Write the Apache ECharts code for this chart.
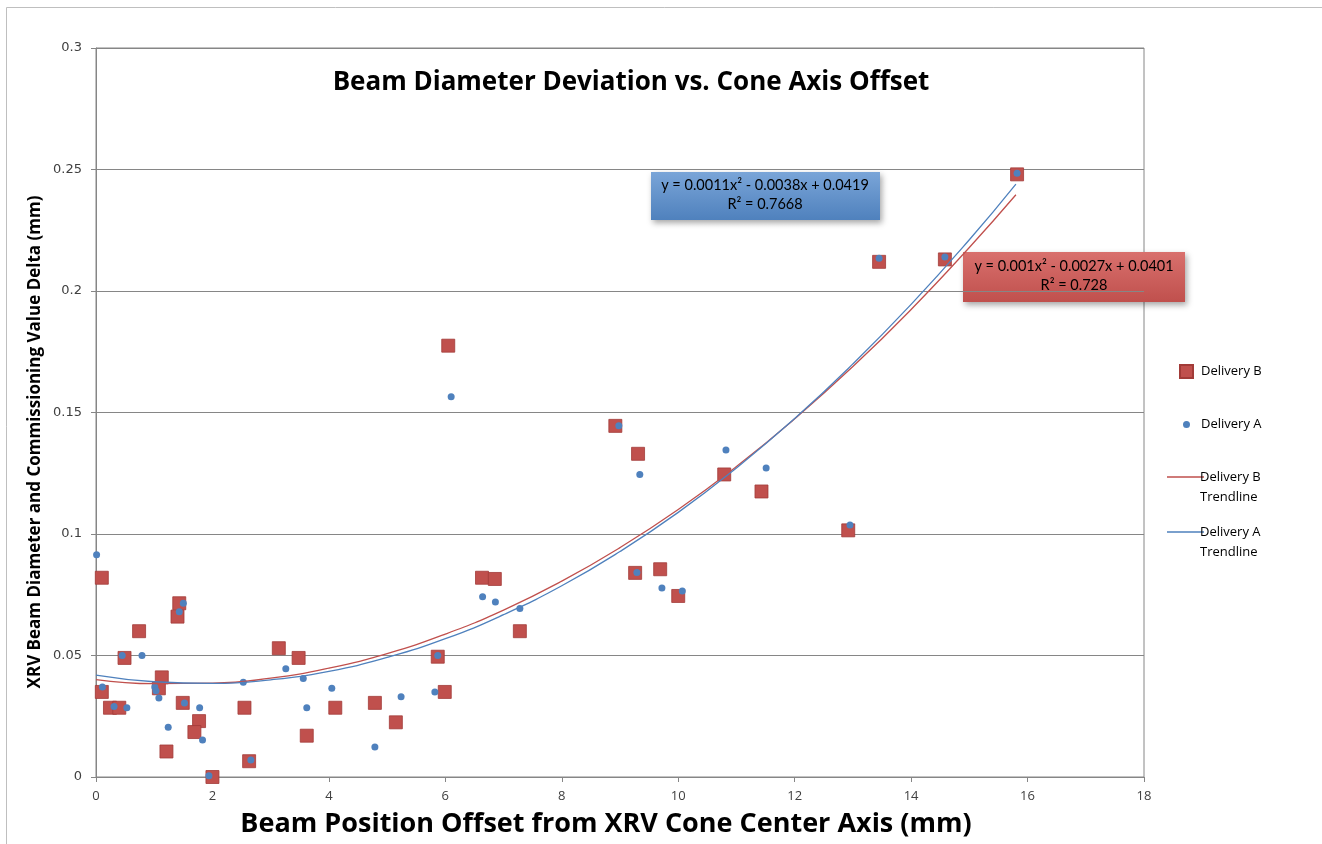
<!DOCTYPE html>
<html><head><meta charset="utf-8">
<script src="https://cdn.jsdelivr.net/npm/echarts@6/dist/echarts.min.js"></script>
<style>html,body{margin:0;padding:0;background:#fff}#c{width:1322px;height:844px}</style>
</head><body><div id="c"></div>
<script>
// Delivery B (red squares)
const bX = [0.10,0.10,0.24,0.40,0.49,0.74,1.13,1.08,1.43,1.40,1.49,1.21,1.77,1.69,2.00,2.55,2.63,3.14,3.48,3.62,4.11,4.79,5.15,5.87,5.99,6.05,6.63,6.85,7.28,8.92,9.26,9.31,9.69,10.00,10.79,11.43,12.92,13.45,14.58,15.82];
const bY = [0.082,0.035,0.0285,0.0285,0.049,0.060,0.041,0.0365,0.0715,0.066,0.0305,0.0105,0.023,0.0185,0.0,0.0285,0.0065,0.053,0.049,0.017,0.0285,0.0305,0.0225,0.0495,0.035,0.1775,0.082,0.0815,0.060,0.1445,0.084,0.133,0.0855,0.0745,0.1245,0.1175,0.1015,0.212,0.213,0.248];
// Delivery A (blue dots)
const aX = [0.01,0.11,0.31,0.45,0.53,0.79,1.01,1.03,1.08,1.24,1.43,1.50,1.52,1.78,1.83,1.94,2.53,2.66,3.26,3.56,3.62,4.05,4.79,5.24,5.82,5.87,6.10,6.64,6.86,7.28,8.98,9.29,9.34,9.72,10.07,10.82,11.51,12.95,13.45,14.58,15.82];
const aY = [0.0915,0.037,0.029,0.050,0.0285,0.050,0.037,0.0355,0.0325,0.0205,0.068,0.0715,0.0305,0.0285,0.0152,0.0005,0.039,0.007,0.0445,0.0405,0.0285,0.0365,0.0123,0.033,0.035,0.050,0.1565,0.0742,0.072,0.0693,0.1445,0.0842,0.1245,0.0778,0.0765,0.1346,0.1272,0.1037,0.2135,0.214,0.2485];
// Trendlines
const trendX = [0,1,2,3,4,5,6,7,8,9,10,11,12,13,14,15,15.8];
const trendB = [0.0401,0.0384,0.0386,0.0407,0.0448,0.0508,0.0588,0.0687,0.0806,0.0944,0.1101,0.1278,0.1474,0.1689,0.1924,0.2179,0.2396];
const trendA = [0.0419,0.0392,0.0385,0.0400,0.0435,0.0492,0.0569,0.0668,0.0787,0.0928,0.1089,0.1272,0.1475,0.1700,0.1945,0.2211,0.2440];
const eqA = ['y = 0.0011x² - 0.0038x + 0.0419', 'R² = 0.7668'];
const eqB = ['y = 0.001x² - 0.0027x + 0.0401', 'R² = 0.728'];
const names = ['Delivery B', 'Delivery A', 'Delivery B Trendline', 'Delivery A Trendline'];
const yTitle = 'XRV Beam Diameter and Commissioning Value Delta (mm)';

const zip = (xs, ys) => xs.map((x, i) => [x, ys[i]]);
const RED = '#c0504d', BLUE = '#4f81bd';
const LINE_ICON = 'path://M0,0H0.01V0.01H0Z M0,9.3H37V10.7H0Z M0,39.99H0.01V40H0Z';
const DOT_ICON = 'path://M0,0H0.01V0.01H0Z M12.99,12.99H13V13H12.99Z M3,6.5A3.5,3.5 0 1 1 10,6.5A3.5,3.5 0 1 1 3,6.5Z';
const chart = echarts.init(document.getElementById('c'), null, {renderer: 'canvas'});
chart.setOption({
  backgroundColor: '#fff',
  animation: false,
  title: {
    text: 'Beam Diameter Deviation vs. Cone Axis Offset',
    left: 626, top: 65, textAlign: 'center',
    textStyle: {fontFamily: 'Open Sans', fontWeight: 'bold', fontSize: 26, color: '#000'}
  },
  grid: {left: 96, right: 178, top: 48, bottom: 67, show: true, borderColor: '#868686', borderWidth: 1},
  xAxis: {
    type: 'value', min: 0, max: 18, interval: 2,
    name: 'Beam Position Offset from XRV Cone Center Axis (mm)',
    nameLocation: 'middle', nameGap: 34,
    nameTextStyle: {fontFamily: 'Open Sans', fontWeight: 'bold', fontSize: 27, color: '#000', verticalAlign: 'top', padding: [0, 28, 0, 0]},
    axisLine: {show: true, lineStyle: {color: '#868686'}},
    axisTick: {show: true, inside: false, length: 5, lineStyle: {color: '#868686'}},
    axisLabel: {fontFamily: 'Open Sans', fontSize: 13, color: '#404040', margin: 13},
    splitLine: {show: false}
  },
  yAxis: {
    type: 'value', min: 0, max: 0.3, interval: 0.05,
    axisLine: {show: true, lineStyle: {color: '#868686'}},
    axisTick: {show: true, inside: false, length: 5, lineStyle: {color: '#868686'}},
    axisLabel: {fontFamily: 'DejaVu Sans', fontSize: 13, color: '#404040', margin: 14},
    splitLine: {show: true, lineStyle: {color: '#868686', width: 1}}
  },
  legend: [{
    data: [{name: names[0], icon: 'rect'}, {name: names[1], icon: DOT_ICON}],
    orient: 'vertical', left: 1174, top: 359, itemGap: 39, itemWidth: 13, itemHeight: 13,
    textStyle: {fontFamily: 'Open Sans', fontSize: 13, color: '#000', padding: [0, 0, 0, 3]},
    selectedMode: false
  }, {
    data: [{name: names[2], icon: LINE_ICON}, {name: names[3], icon: LINE_ICON}],
    orient: 'vertical', left: 1162, top: 462, itemGap: 15, itemWidth: 37, itemHeight: 40,
    formatter: n => n.replace(' Trendline', '\nTrendline'),
    textStyle: {fontFamily: 'Open Sans', fontSize: 13, color: '#000', lineHeight: 20, padding: [0, 0, 0, -9]},
    selectedMode: false
  }],
  series: [{
    name: names[0], type: 'scatter', symbol: 'rect', symbolSize: 13,
    itemStyle: {color: RED, borderColor: '#a23b38', borderWidth: 0.8, opacity: 1},
    data: zip(bX, bY), z: 3
  }, {
    name: names[1], type: 'scatter', symbol: 'circle', symbolSize: 7,
    itemStyle: {color: BLUE, opacity: 1},
    data: zip(aX, aY), z: 4
  }, {
    name: names[2], type: 'line', smooth: true, symbol: 'none', showSymbol: false,
    lineStyle: {color: RED, width: 1.3}, itemStyle: {color: RED},
    data: zip(trendX, trendB), z: 5
  }, {
    name: names[3], type: 'line', smooth: true, symbol: 'none', showSymbol: false,
    lineStyle: {color: BLUE, width: 1.3}, itemStyle: {color: BLUE},
    data: zip(trendX, trendA), z: 5
  }],
  graphic: [
    {type: 'rect', left: 4, top: 5, shape: {width: 1340, height: 860}, style: {fill: 'none', stroke: '#bfbfbf', lineWidth: 1}, silent: true, z: 0},
    {type: 'text', x: 35, y: 442, rotation: Math.PI / 2, z: 10,
     style: {text: yTitle, fontFamily: 'Open Sans', fontWeight: 'bold', fontSize: 17, fill: '#000', align: 'center', verticalAlign: 'middle'}},
    {type: 'group', left: 651, top: 172, z: 10, children: [
      {type: 'rect', shape: {width: 229, height: 48},
       style: {fill: new echarts.graphic.LinearGradient(0, 0, 0, 1, [{offset: 0, color: '#7aa5d8'}, {offset: 1, color: '#4f81bd'}]),
               shadowBlur: 6, shadowOffsetX: 2, shadowOffsetY: 3, shadowColor: 'rgba(0,0,0,0.35)'}},
      {type: 'text', x: 114, y: 6, style: {text: eqA[0], fontFamily: 'Lato', fontSize: 14.5, fill: '#000', align: 'center'}},
      {type: 'text', x: 114, y: 25, style: {text: eqA[1], fontFamily: 'Lato', fontSize: 14.5, fill: '#000', align: 'center'}}
    ]},
    {type: 'group', left: 963, top: 252, z: 10, children: [
      {type: 'rect', shape: {width: 222, height: 50},
       style: {fill: new echarts.graphic.LinearGradient(0, 0, 0, 1, [{offset: 0, color: '#d9706d'}, {offset: 1, color: '#c0504d'}]),
               shadowBlur: 6, shadowOffsetX: 2, shadowOffsetY: 3, shadowColor: 'rgba(0,0,0,0.35)'}},
      {type: 'text', x: 111, y: 7, style: {text: eqB[0], fontFamily: 'Lato', fontSize: 14.5, fill: '#000', align: 'center'}},
      {type: 'text', x: 111, y: 26, style: {text: eqB[1], fontFamily: 'Lato', fontSize: 14.5, fill: '#000', align: 'center'}}
    ]}
  ]
});
</script></body></html>
